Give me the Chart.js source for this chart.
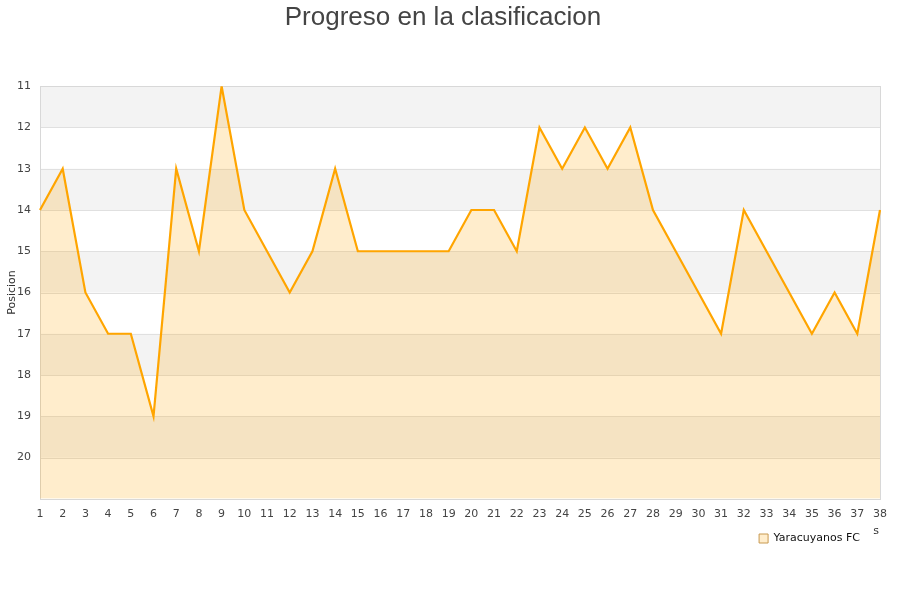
<!DOCTYPE html>
<html>
<head>
<meta charset="utf-8">
<script src="https://cdn.jsdelivr.net/npm/chart.js@4/dist/chart.umd.min.js"></script>
<style>
	body { margin: 0; background: #fff; }
</style>
</head>
<body>
<canvas id="grafico" width="900" height="600"></canvas>
<script>
var jornadas = [];
for(i=1; i<=38; i++)
	jornadas.push(String(i));

var posiciones = [14, 13, 16, 17, 17, 19, 13, 15, 11, 14, 15, 16, 15, 13, 15, 15, 15, 15, 15, 14,
	14, 15, 12, 13, 12, 13, 12, 14, 15, 16, 17, 14, 15, 16, 17, 16, 17, 14];

var posMin = 11;
var posMax = 21;

// franjas grises alternas y marco del area
var franjas = {
	id: 'franjas',
	afterLayout: function(chart)
	{
		chart.legend.left -= 17;
		chart.legend.right -= 17;
	},
	beforeDraw: function(chart)
	{
		var c = chart.ctx;
		c.save();
		c.font = "11px 'DejaVu Sans'";
		c.fillStyle = "#333";
		c.textAlign = "right";
		c.textBaseline = "middle";
		c.fillText("Jornadas", 879, 531);
		c.fillStyle = "#fff";
		c.fillRect(745, 522, 128, 24);
		c.restore();
	},
	beforeDatasetsDraw: function(chart)
	{
		var c = chart.ctx;
		var a = chart.chartArea;
		var y = chart.scales.y;
		c.save();
		c.fillStyle = "#f3f3f3";
		for(v=posMin; v<posMax; v+=2)
		{
			var p1 = y.getPixelForValue(v);
			var p2 = y.getPixelForValue(v+1);
			c.fillRect(a.left, p1, a.right - a.left, p2 - p1);
		}
		c.strokeStyle = "#e0e0e0";
		c.lineWidth = 1;
		for(v=posMin; v<=posMax; v++)
		{
			var p = Math.round(y.getPixelForValue(v)) + 0.5;
			c.beginPath();
			c.moveTo(a.left, p);
			c.lineTo(a.right, p);
			c.stroke();
		}
		c.strokeStyle = "#d8d8d8";
		c.strokeRect(Math.round(a.left) + 0.5, Math.round(a.top) + 0.5, Math.round(a.right - a.left), Math.round(a.bottom - a.top));
		c.restore();
	}
};

var ctx = document.getElementById("grafico");
var myChart = new Chart(ctx, {
	type: 'line',
	data: {
		labels: jornadas,
		datasets: [{
			label: "Yaracuyanos FC",
			data: posiciones,
			borderColor: "#ffa500",
			backgroundColor: "rgba(255,165,0,0.2)",
			borderWidth: 2.2,
			pointRadius: 0,
			tension: 0,
			fill: { value: posMax }
		}]
	},
	options: {
		responsive: false,
		animation: false,
		layout: {
			padding: { left: 6, right: 20, top: 0, bottom: 46 }
		},
		plugins: {
			title: {
				display: true,
				text: "Progreso en la clasificacion",
				color: "#444",
				font: { family: "'Liberation Sans', Arial", size: 26, weight: 'normal' },
				padding: { top: 2, bottom: 53 }
			},
			legend: {
				position: 'bottom',
				align: 'end',
				labels: {
					boxWidth: 9,
					boxHeight: 9,
					color: "#111",
					font: { family: "'DejaVu Sans'", size: 11 },
					padding: 3,
					generateLabels: function(chart)
					{
						var ds = chart.data.datasets[0];
						return [{
							text: ds.label,
							fillStyle: "rgba(255,165,0,0.2)",
							strokeStyle: "#c89a50",
							lineWidth: 1,
							fontColor: "#111",
							datasetIndex: 0
						}];
					}
				}
			},
			tooltip: { enabled: false }
		},
		scales: {
			x: {
				grid: { display: false, drawTicks: false },
				border: { display: false },
				ticks: {
					color: "#444",
					font: { family: "'DejaVu Sans'", size: 11 },
					maxRotation: 0,
					autoSkip: false,
					padding: 9
				}
			},
			y: {
				reverse: true,
				min: posMin,
				max: posMax,
				afterFit: function(scale)
				{
					scale.width = 34;
				},
				grid: { display: false, drawTicks: false },
				border: { display: false },
				title: {
					display: true,
					text: "Posicion",
					color: "#333",
					font: { family: "'DejaVu Sans'", size: 11 },
					padding: 0
				},
				ticks: {
					stepSize: 1,
					color: "#444",
					font: { family: "'DejaVu Sans'", size: 11 },
					padding: 9,
					callback: function(valor)
					{
						if(valor == posMax)
							return "";
						return valor;
					}
				}
			}
		}
	},
	plugins: [franjas]
});
</script>
</body>
</html>
